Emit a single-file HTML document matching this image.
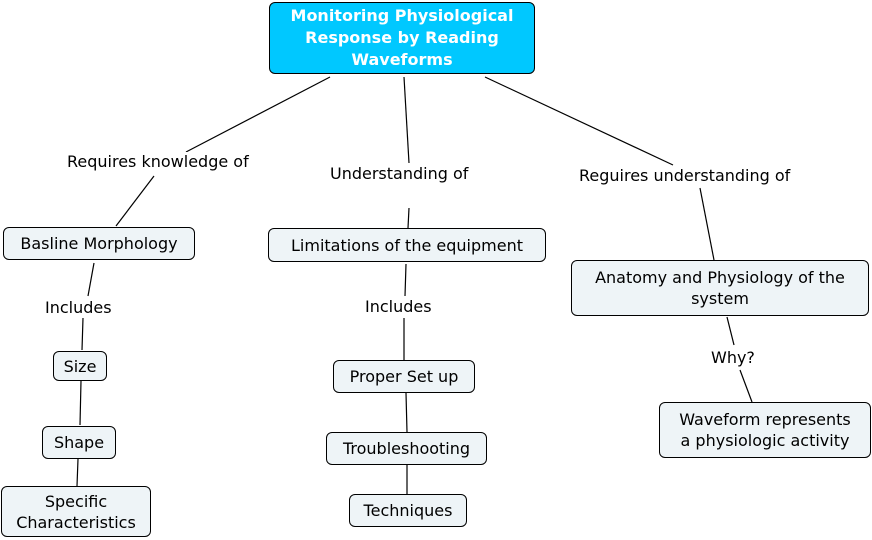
<!DOCTYPE html>
<html><head><meta charset="utf-8"><style>
body{margin:0;width:872px;height:540px;background:#fff;position:relative;overflow:hidden;font-family:"DejaVu Sans","Liberation Sans",sans-serif;font-size:16px;color:#000}
.n{position:absolute;box-sizing:border-box;border:1px solid #000;border-radius:6px;background:#eef4f7;display:flex;align-items:center;justify-content:center;text-align:center;line-height:21px}
.l{position:absolute;white-space:nowrap;background:#fff;line-height:20px}
svg{position:absolute;left:0;top:0}
</style></head><body>
<svg width="872" height="540"><g stroke="#000" stroke-width="1.2">
<line x1="330" y1="77" x2="186" y2="152"/><line x1="154" y1="176" x2="116" y2="226"/>
<line x1="404" y1="77" x2="409" y2="163"/><line x1="409" y1="208" x2="408" y2="228"/>
<line x1="485" y1="77" x2="673" y2="165"/><line x1="700" y1="188" x2="714" y2="260"/>
<line x1="94" y1="263" x2="88" y2="296"/><line x1="83" y1="318" x2="82" y2="350"/>
<line x1="81" y1="381" x2="80" y2="425"/><line x1="78" y1="459" x2="77" y2="486"/>
<line x1="406" y1="264" x2="405" y2="296"/><line x1="404" y1="318" x2="404" y2="360"/>
<line x1="406" y1="393" x2="407" y2="432"/><line x1="407" y1="465" x2="407" y2="494"/>
<line x1="727" y1="317" x2="734" y2="345"/><line x1="740" y1="370" x2="752" y2="402"/>
</g></svg>
<div class="n" style="left:269px;top:2px;width:266px;height:72px;background:#00c8ff;color:#fff;font-weight:bold;line-height:22px">Monitoring Physiological<br>Response by Reading<br>Waveforms</div>
<div class="l" style="left:67px;top:152px">Requires knowledge of</div>
<div class="l" style="left:330px;top:164px">Understanding of</div>
<div class="l" style="left:579px;top:166px">Reguires understanding of</div>
<div class="n" style="left:3px;top:227px;width:192px;height:33px">Basline Morphology</div>
<div class="n" style="left:268px;top:228px;width:278px;height:34px">Limitations of the equipment</div>
<div class="n" style="left:571px;top:260px;width:298px;height:56px">Anatomy and Physiology of the<br>system</div>
<div class="l" style="left:45px;top:298px">Includes</div>
<div class="l" style="left:365px;top:297px">Includes</div>
<div class="l" style="left:711px;top:348px">Why?</div>
<div class="n" style="left:53px;top:351px;width:54px;height:30px">Size</div>
<div class="n" style="left:42px;top:426px;width:74px;height:33px">Shape</div>
<div class="n" style="left:1px;top:486px;width:150px;height:51px">Specific<br>Characteristics</div>
<div class="n" style="left:333px;top:360px;width:142px;height:33px">Proper Set up</div>
<div class="n" style="left:326px;top:432px;width:161px;height:33px">Troubleshooting</div>
<div class="n" style="left:349px;top:494px;width:118px;height:33px">Techniques</div>
<div class="n" style="left:659px;top:402px;width:212px;height:56px">Waveform represents<br>a physiologic activity</div>
</body></html>
